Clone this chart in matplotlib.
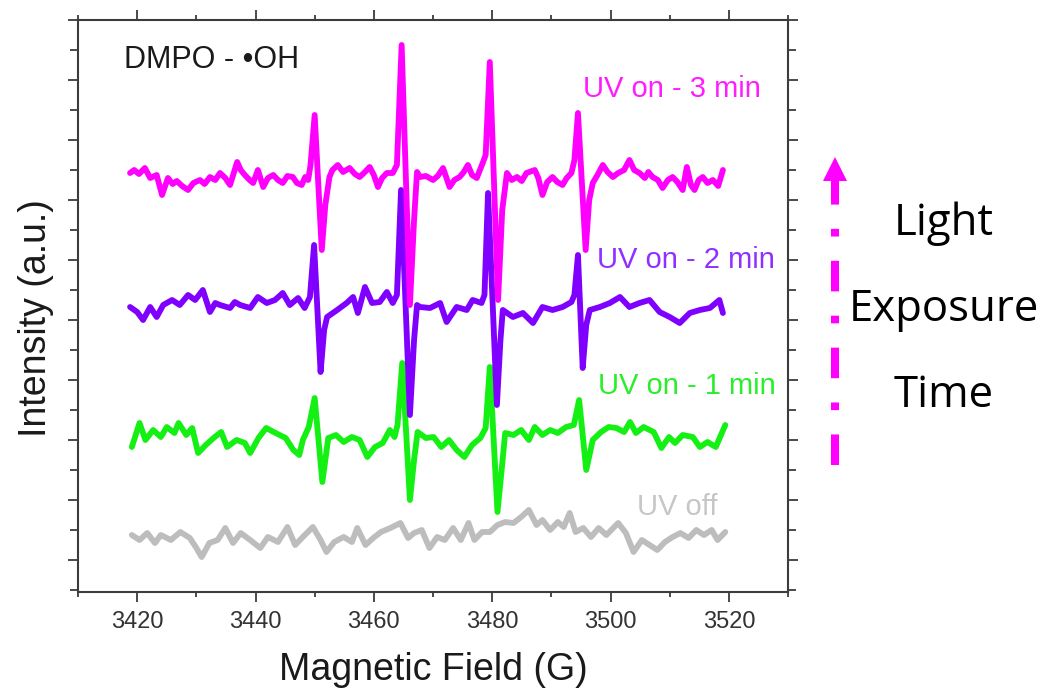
import numpy as np
import matplotlib
matplotlib.use("Agg")
from matplotlib import pyplot as plt
from matplotlib.lines import Line2D
from matplotlib.patches import Polygon
from matplotlib.ticker import MultipleLocator

plt.rcParams["font.family"] = ["Liberation Sans", "DejaVu Sans"]
plt.rcParams["lines.scale_dashes"] = False

# ── Spectra: field (G) and intensity relative to each baseline (a.u.) ──
UV_OFF_FIELD = [3419.1, 3420.4, 3421.7, 3423.0, 3424.0, 3425.7, 3427.3, 3428.9, 3429.9, 3430.9,
                3432.2, 3433.6, 3434.9, 3436.2, 3437.5, 3439.1, 3440.8, 3442.1, 3443.8, 3445.4,
                3446.7, 3448.0, 3449.7, 3451.0, 3452.0, 3453.3, 3454.9, 3456.3, 3457.2, 3458.6,
                3459.9, 3461.2, 3462.8, 3464.5, 3465.8, 3466.8, 3468.1, 3469.4, 3470.7, 3472.0,
                3473.4, 3474.7, 3476.0, 3477.0, 3478.3, 3479.6, 3480.9, 3482.2, 3483.6, 3484.9,
                3486.2, 3487.5, 3488.5, 3489.8, 3491.1, 3492.1, 3493.1, 3494.1, 3495.4, 3496.7,
                3498.0, 3499.3, 3501.3, 3502.6, 3503.9, 3505.3, 3506.6, 3507.9, 3509.2, 3510.5,
                3511.8, 3513.2, 3514.5, 3515.8, 3517.1, 3518.1, 3519.4]
UV_OFF_INT = [3, -2, 5, -5, 3, -2, 6, 0, -9, -19,
              -5, -2, 10, -5, 5, -2, -10, 1, -4, 11,
              -7, 1, 11, -2, -14, -4, 1, -4, 10, -7,
              0, 6, 10, 15, 0, 5, 8, -10, 1, -2,
              10, -2, 15, -2, 6, 6, 13, 16, 15, 21,
              28, 13, 18, 8, 16, 11, 25, 6, 10, 1,
              10, 3, 15, 5, -14, -2, -7, -12, -4, 1,
              5, 0, 8, 3, 8, -2, 6]

UV_1MIN_FIELD = [3419.1, 3420.4, 3421.4, 3422.7, 3424.0, 3425.0, 3426.3, 3427.0, 3428.3, 3429.3,
                 3430.3, 3431.6, 3432.9, 3434.2, 3435.2, 3436.8, 3438.2, 3439.1, 3440.5, 3441.8,
                 3443.4, 3445.1, 3446.4, 3447.4, 3448.0, 3449.0, 3450.0, 3451.3, 3452.3, 3453.6,
                 3454.9, 3456.3, 3457.6, 3458.9, 3460.2, 3461.5, 3462.7, 3463.5, 3464.0, 3464.8,
                 3466.1, 3466.8, 3467.4, 3468.8, 3470.1, 3471.4, 3472.7, 3474.0, 3475.3, 3476.6,
                 3478.0, 3478.9, 3479.6, 3480.9, 3481.6, 3482.2, 3483.6, 3484.9, 3486.2, 3487.2,
                 3488.5, 3489.8, 3491.1, 3492.5, 3493.8, 3494.7, 3495.9, 3497.0, 3498.4, 3499.7,
                 3501.0, 3502.3, 3503.3, 3504.3, 3505.6, 3507.3, 3508.6, 3509.9, 3510.9, 3512.2,
                 3513.9, 3515.1, 3516.4, 3517.8, 3519.4]
UV_1MIN_INT = [-9, 15, -2, 8, 1, 11, 5, 15, 3, 10,
               -15, -7, 0, 6, -9, -2, -5, -15, 0, 10,
               5, 0, -12, -17, -2, 11, 40, -44, 0, 3,
               -4, 1, -2, -19, -9, -5, 8, 1, 13, 75,
               -62, -22, 6, 0, 1, -9, -2, -12, -19, -7,
               0, 10, 71, -74, -32, 5, 3, 8, -2, 11,
               3, 8, 5, 11, 13, 38, -32, -2, 6, 11,
               10, 6, 16, 5, 11, 6, -10, 1, -5, 3,
               1, -9, -4, -9, 13]

UV_2MIN_FIELD = [3418.8, 3420.0, 3421.0, 3422.2, 3423.3, 3424.4, 3425.9, 3427.2, 3428.6, 3429.8,
                 3431.1, 3432.3, 3433.2, 3434.0, 3435.7, 3436.5, 3437.4, 3439.1, 3440.4, 3441.9,
                 3443.3, 3444.6, 3445.8, 3447.2, 3448.3, 3449.2, 3449.9, 3451.0, 3451.6, 3452.1,
                 3453.8, 3455.4, 3456.5, 3457.3, 3458.5, 3459.7, 3461.0, 3462.2, 3463.2, 3463.9,
                 3464.6, 3466.1, 3466.8, 3467.3, 3467.8, 3469.5, 3471.2, 3472.3, 3474.0, 3475.7,
                 3476.7, 3478.2, 3478.7, 3479.3, 3480.8, 3481.4, 3481.8, 3483.5, 3485.2, 3486.9,
                 3488.5, 3490.2, 3491.9, 3493.4, 3493.9, 3494.5, 3495.3, 3495.9, 3496.5, 3498.2,
                 3499.9, 3501.6, 3503.2, 3504.9, 3506.6, 3508.3, 3510.0, 3511.7, 3513.4, 3515.1,
                 3516.8, 3518.4, 3519.0]
UV_2MIN_INT = [0, -5, -13, 0, -10, 2, 7, 2, 12, 7,
               17, -5, 4, 2, -1, 5, 2, -1, 10, 4,
               7, 14, 2, 9, -1, 10, 62, -65, -23, -10,
               -3, 4, 10, -6, 20, 4, 5, 15, 4, 12,
               117, -108, -33, 2, 0, -1, 4, -15, 0, -3,
               7, 4, 12, 114, -98, -33, -3, -10, -6, -16,
               0, -3, 0, 5, 12, 52, -61, -18, -3, 0,
               4, 10, 0, 4, 7, -5, -10, -16, -6, -3,
               -1, 7, -6]

UV_3MIN_FIELD = [3418.8, 3419.5, 3420.3, 3421.3, 3422.2, 3423.3, 3424.2, 3425.2, 3426.0, 3426.7,
                 3427.6, 3428.6, 3429.5, 3430.6, 3431.4, 3432.3, 3433.2, 3434.0, 3434.9, 3435.7,
                 3436.9, 3437.5, 3438.2, 3439.0, 3439.6, 3440.4, 3441.3, 3442.1, 3443.0, 3443.8,
                 3444.6, 3445.4, 3446.3, 3447.0, 3447.8, 3448.4, 3448.9, 3449.3, 3450.0, 3451.2,
                 3451.8, 3452.5, 3453.0, 3453.9, 3454.8, 3455.9, 3456.8, 3457.6, 3458.5, 3459.3,
                 3460.0, 3460.7, 3461.4, 3462.2, 3463.2, 3463.9, 3464.7, 3466.1, 3466.8, 3467.3,
                 3467.8, 3468.8, 3470.0, 3470.8, 3471.7, 3472.8, 3473.6, 3474.5, 3475.2, 3475.9,
                 3476.6, 3477.4, 3478.4, 3478.9, 3479.6, 3481.0, 3481.7, 3482.5, 3483.3, 3484.2,
                 3485.0, 3485.8, 3487.2, 3487.8, 3488.5, 3489.3, 3490.2, 3491.0, 3491.9, 3492.6,
                 3493.4, 3493.9, 3494.5, 3495.8, 3496.4, 3497.0, 3497.8, 3498.7, 3499.5, 3500.4,
                 3501.3, 3502.3, 3503.2, 3504.0, 3504.9, 3505.8, 3506.4, 3507.1, 3508.0, 3508.8,
                 3509.7, 3510.5, 3511.3, 3512.2, 3512.9, 3513.6, 3514.2, 3514.9, 3515.6, 3516.4,
                 3517.3, 3518.2, 3519.0]
UV_3MIN_INT = [4, 7, 3, 9, -1, 2, -18, -1, -7, -4,
               -9, -13, -6, -3, -7, 0, -3, 4, -1, -8,
               15, 7, 2, -3, -6, 7, -10, -1, 2, -3,
               -6, 1, 0, -6, -8, 0, -3, 12, 62, -73,
               -28, 0, 7, 12, 5, 9, 3, 0, 5, 10,
               2, -10, -1, 4, 4, 12, 132, -128, -43, 5,
               0, 1, -3, 1, 9, -10, -3, 0, 5, 12,
               2, -1, 14, 22, 115, -123, -33, 4, -3, 0,
               -4, 4, 7, -1, -18, -5, 0, -5, -8, -1,
               4, 17, 64, -73, -23, -6, 2, 12, 5, 0,
               4, 7, 17, 7, 4, -1, 5, 0, -3, -11,
               -3, 0, -5, -13, 10, -8, -13, -3, 0, -6,
               -3, -9, 7]

LABELS = ["UV off", "UV on - 1 min", "UV on - 2 min", "UV on - 3 min"]
OFFSETS = [52, 152, 283, 413]          # vertical stacking of the spectra (a.u.)
LINE_COLORS = ["#bdbdbd", "#14f014", "#7f00ff", "#ff00ff"]
TEXT_COLORS = ["#c6c6c6", "#2aee2a", "#9030ff", "#ff1cff"]
LABEL_POS = [(3504.4, 75), (3497.9, 196), (3497.7, 322), (3495.3, 493)]  # (G, a.u.) text baseline

XTICKS = [3420, 3440, 3460, 3480, 3500, 3520]

fields = [UV_OFF_FIELD, UV_1MIN_FIELD, UV_2MIN_FIELD, UV_3MIN_FIELD]
intens = [UV_OFF_INT, UV_1MIN_INT, UV_2MIN_INT, UV_3MIN_INT]

fig = plt.figure(figsize=(10.44, 6.92), dpi=100)
ax = fig.add_axes([78 / 1044, 100 / 692, 710 / 1044, 572 / 692])

for f, y, off, c in zip(fields, intens, OFFSETS, LINE_COLORS):
    ax.plot(np.array(f), np.array(y) + off, color=c, lw=4.2,
            solid_joinstyle="round", solid_capstyle="round")

for lab, (x, y), c in zip(LABELS, LABEL_POS, TEXT_COLORS):
    ax.text(x, y, lab, color=c, fontsize=21, ha="left", va="baseline")

ax.text(3417.8, 522, "DMPO - \u2022OH", color="#1a1a1a", fontsize=22, ha="left", va="baseline")

ax.set_xlim(3410, 3530)
ax.set_ylim(-2, 570)
ax.set_xticks(XTICKS)
ax.xaxis.set_minor_locator(MultipleLocator(10))
ax.yaxis.set_major_locator(MultipleLocator(60, offset=30))
ax.yaxis.set_minor_locator(MultipleLocator(60))

spine_c = "#3c3c3c"
for s in ax.spines.values():
    s.set_color(spine_c)
    s.set_linewidth(1.5)

ax.tick_params(which="both", direction="out", top=True, right=True, colors=spine_c,
               labelleft=False, width=1.3)
ax.tick_params(axis="x", which="major", length=7, labelsize=17, pad=7, labelcolor="#333333")
ax.tick_params(axis="x", which="minor", length=3.6)
ax.tick_params(axis="y", which="major", length=7.5)
ax.tick_params(axis="y", which="minor", length=5.5)

ax.set_xlabel("Magnetic Field (G)", fontsize=27, color="#1a1a1a", va="baseline")
ax.xaxis.set_label_coords(0.501, -0.1538)
ax.set_ylabel("Intensity (a.u.)", fontsize=27, color="#1a1a1a", va="center")
ax.yaxis.set_label_coords(-0.0592, 0.479)

# ── Light exposure arrow + caption ────────────────────────────────────────────
ax_x = 835 / 1044
fig.add_artist(Line2D([ax_x, ax_x], [1 - 465 / 692, 1 - 181 / 692], transform=fig.transFigure,
                      color="#ff00ff", lw=5.8, dashes=(22, 17.5, 5.5, 17.5), dash_capstyle="butt"))
fig.add_artist(Polygon([[ax_x - 12 / 1044, 1 - 181 / 692], [ax_x + 12 / 1044, 1 - 181 / 692],
                        [ax_x, 1 - 157 / 692]], closed=True, transform=fig.transFigure,
                       facecolor="#ff00ff", edgecolor="none"))

for word, base in zip(["Light", "Exposure", "Time"], [235, 321, 407]):
    fig.text(944 / 1044, 1 - base / 692, word, fontsize=31.5, family=["Open Sans", "DejaVu Sans"],
             ha="center", va="baseline", color="black")

fig.savefig("out.png", dpi=100)
